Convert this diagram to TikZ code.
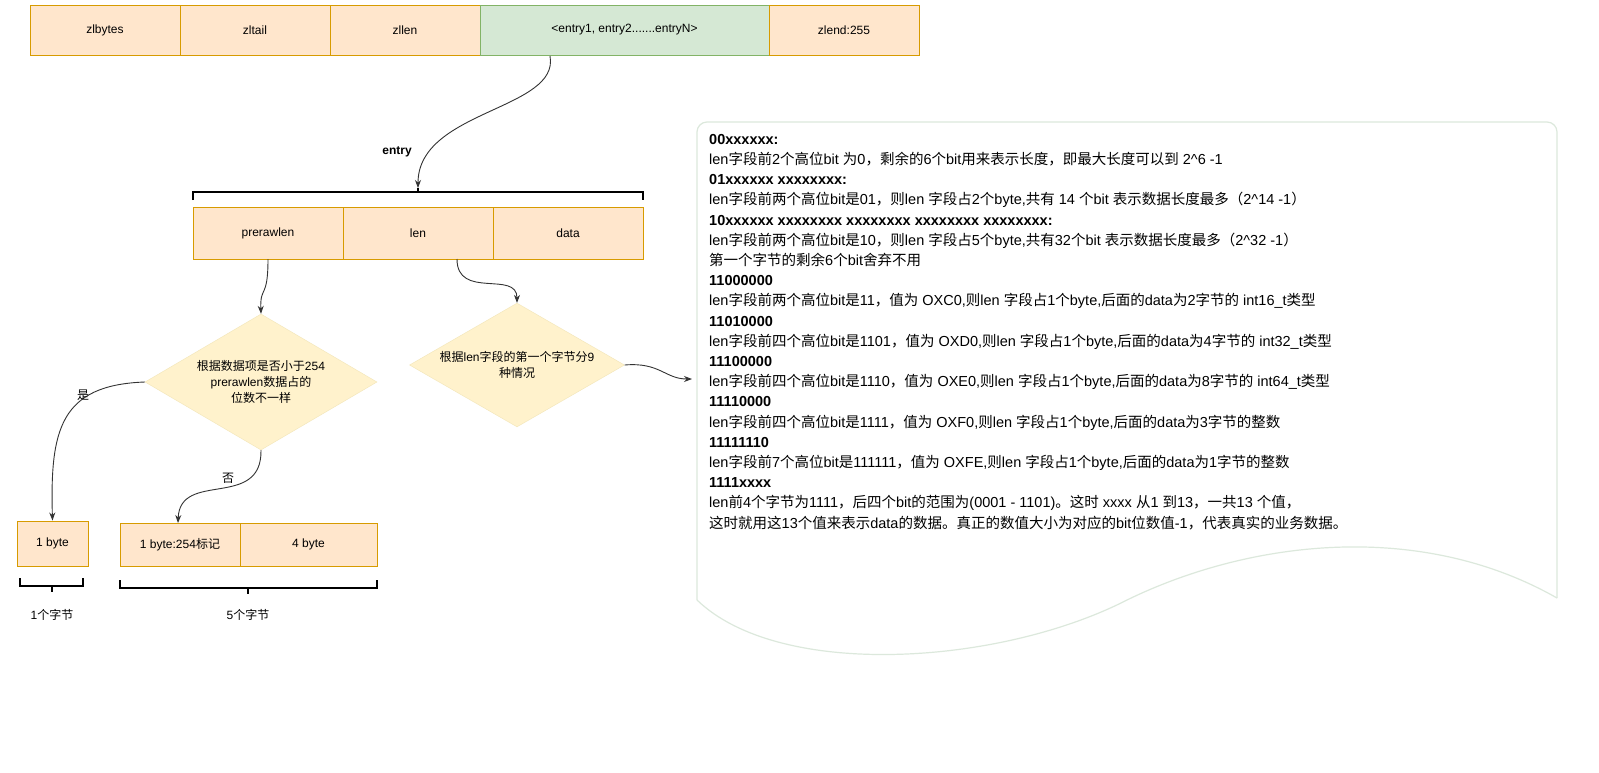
\documentclass[tikz,border=0pt]{standalone}
\usepackage{fontspec}
\setmainfont{Liberation Sans}
\newfontfamily\cjkfont{Noto Sans CJK SC}
\newcount\cjkcnt
\newXeTeXintercharclass\cjkclass
\cjkcnt="3000 \loop\ifnum\cjkcnt<"3040 \XeTeXcharclass\cjkcnt=\cjkclass \advance\cjkcnt 1 \repeat
\cjkcnt="4E00 \loop\ifnum\cjkcnt<"A000 \XeTeXcharclass\cjkcnt=\cjkclass \advance\cjkcnt 1 \repeat
\cjkcnt="FF00 \loop\ifnum\cjkcnt<"FFF0 \XeTeXcharclass\cjkcnt=\cjkclass \advance\cjkcnt 1 \repeat
\XeTeXinterchartoks 0 \cjkclass = {\cjkfont}
\XeTeXinterchartoks 4095 \cjkclass = {\cjkfont}
\XeTeXinterchartoks \cjkclass 0 = {\rmfamily}
\XeTeXinterchartoks \cjkclass 4095 = {\rmfamily}
\XeTeXinterchartokenstate=1
\usetikzlibrary{shapes.geometric,arrows.meta}
\definecolor{ofill}{HTML}{FFE6CC}\definecolor{oline}{HTML}{D79B00}
\definecolor{gfill}{HTML}{D5E8D4}\definecolor{gline}{HTML}{82B366}
\definecolor{yfill}{HTML}{FFF2CC}\definecolor{yline}{HTML}{F2E6B8}
\definecolor{docline}{HTML}{DCE8DC}
\tikzset{x=1pt,y=-1pt,
 cell/.style={draw=oline,fill=ofill,line width=1pt,minimum height=50pt,inner sep=0pt,font=\fontsize{12}{12}\selectfont},
 dia/.style={diamond,aspect=1.6,draw=yline,fill=yfill,inner sep=0pt,font=\fontsize{12}{16}\selectfont,align=center},
 arr/.style={-{Stealth[length=8pt,width=6pt]},line width=0.9pt,black!80},
 brace/.style={line width=2pt},
 lbl/.style={font=\fontsize{12}{12}\selectfont}}
\begin{document}
\begin{tikzpicture}
\useasboundingbox (0,0) rectangle (1599,772);
\fill[white] (0,0) rectangle (1599,772);
% top bar
\node[cell,minimum width=150pt] (zb) at (105,30) {zlbytes};
\node[cell,minimum width=150pt] (zt) at (255,30) {zltail};
\node[cell,minimum width=150pt] (zl) at (405,30) {zllen};
\node[cell,minimum width=289pt,draw=gline,fill=gfill] (en) at (624.5,30) {<entry1, entry2.......entryN>};
\node[cell,minimum width=150pt] (ze) at (844,30) {zlend:255};
% entry brace
\coordinate (bt) at (418,188);
\draw[brace] (193,200) -- (193,192) -- (643,192) -- (643,200);
\draw[brace] (418,192) -- (bt);
\node[font=\bfseries\fontsize{12}{12}\selectfont] (elab) at (397,152) {entry};
\coordinate (es) at (550,56);
\draw[arr] (es) .. controls (560,110) and (418,110) .. (bt);
% entry cells
\node[cell,minimum width=150pt,minimum height=52pt] (pre) at (268,233) {prerawlen};
\node[cell,minimum width=150pt,minimum height=52pt] (len) at (418,233) {len};
\node[cell,minimum width=150pt,minimum height=52pt] (dat) at (568,233) {data};
% diamonds
\node[dia,minimum width=232pt,minimum height=136pt] (d1) at (261,382) {根据数据项是否小于254\\prerawlen数据占的\\位数不一样};
\node[dia,minimum width=215pt,minimum height=118pt] (d2) at (517,365) {根据len字段的第一个字节分9\\种情况};
\draw[arr] (268,259) .. controls (268,300) and (260,285) .. (d1.north);
\draw[arr] (457,259) .. controls (457,300) and (517,270) .. (d2.north);
\coordinate (docin) at (692,379);
\draw[arr] (d2.east) .. controls (660,362) and (665,379) .. (docin);
% bottom boxes
\node[cell,minimum width=71pt,minimum height=45pt] (b1) at (52.5,543.5) {1 byte};
\node[cell,minimum width=120pt,minimum height=43pt] (b2) at (180,544.5) {1 byte:254标记};
\node[cell,minimum width=137pt,minimum height=43pt] (b3) at (308.5,544.5) {4 byte};
\coordinate (b2in) at (178,523);
\draw[arr] (d1.west) .. controls (60,385) and (50,430) .. (b1.north);
\node[lbl] (yes) at (83,395) {是};
\draw[arr] (d1.south) .. controls (262,510) and (180,470) .. (b2in);
\node[lbl,fill=white,inner sep=1pt] (no) at (228,478) {否};
% bottom braces
\draw[brace] (20,578) -- (20,586) -- (83,586) -- (83,578);
\draw[brace] (52,586) -- (52,592);
\draw[brace] (120,580) -- (120,588) -- (377,588) -- (377,580);
\draw[brace] (248,588) -- (248,594);
\node[lbl] (l1) at (52,615) {1个字节};
\node[lbl] (l5) at (248,615) {5个字节};
% document
\draw[docline,line width=1.2pt,rounded corners=10pt] (697,600) -- (697,122) -- (1557,122) -- (1557,598);
\draw[docline,line width=1.2pt] (1557,598) .. controls (1420,520) and (1250,540) .. (1127,600) .. controls (1000,665) and (780,680) .. (697,600);
\node[anchor=north west,align=left,inner sep=0pt,font=\fontsize{14.5}{20.2}\selectfont] (txt) at (709,134) {%
\textbf{00xxxxxx:}\\
len字段前2个高位bit 为0，剩余的6个bit用来表示长度，即最大长度可以到 2\^{}6 -1\\
\textbf{01xxxxxx xxxxxxxx:}\\
len字段前两个高位bit是01，则len 字段占2个byte,共有 14 个bit 表示数据长度最多（2\^{}14 -1）\\
\textbf{10xxxxxx xxxxxxxx xxxxxxxx xxxxxxxx xxxxxxxx:}\\
len字段前两个高位bit是10，则len 字段占5个byte,共有32个bit 表示数据长度最多（2\^{}32 -1）\\
第一个字节的剩余6个bit舍弃不用\\
\textbf{11000000}\\
len字段前两个高位bit是11，值为 OXC0,则len 字段占1个byte,后面的data为2字节的 int16\_t类型\\
\textbf{11010000}\\
len字段前四个高位bit是1101，值为 OXD0,则len 字段占1个byte,后面的data为4字节的 int32\_t类型\\
\textbf{11100000}\\
len字段前四个高位bit是1110，值为 OXE0,则len 字段占1个byte,后面的data为8字节的 int64\_t类型\\
\textbf{11110000}\\
len字段前四个高位bit是1111，值为 OXF0,则len 字段占1个byte,后面的data为3字节的整数\\
\textbf{11111110}\\
len字段前7个高位bit是111111，值为 OXFE,则len 字段占1个byte,后面的data为1字节的整数\\
\textbf{1111xxxx}\\
len前4个字节为1111，后四个bit的范围为(0001 - 1101)。这时 xxxx 从1 到13，一共13 个值，\\
这时就用这13个值来表示data的数据。真正的数值大小为对应的bit位数值-1，代表真实的业务数据。};
\end{tikzpicture}
\end{document}
